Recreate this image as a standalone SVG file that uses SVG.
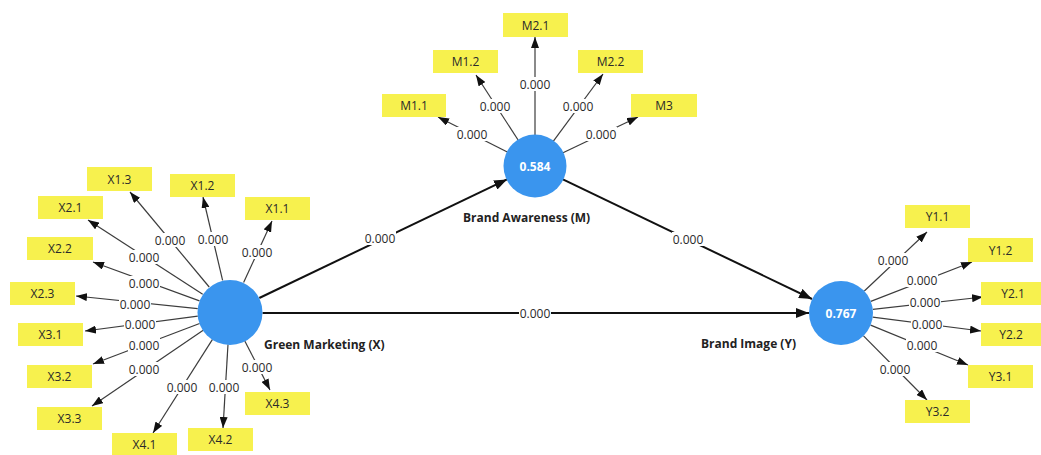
<svg xmlns="http://www.w3.org/2000/svg" width="1041" height="455" viewBox="0 0 1041 455">
<defs>
<style>
.bg{fill:#fff}
.box{fill:#f7f14e}
.bt{font-family:"Open Sans","Noto Sans",sans-serif;font-size:12px;fill:#2a2a2a;text-anchor:middle;dominant-baseline:central}
.lv{fill:#3a95ee}
.cv{font-family:"Open Sans","Noto Sans",sans-serif;font-size:12px;font-weight:bold;fill:#fff;text-anchor:middle;dominant-baseline:central}
.nl{font-family:"Open Sans","Noto Sans",sans-serif;font-size:12px;font-weight:bold;fill:#222;dominant-baseline:central}
.ind{stroke:#3c3c3c;stroke-width:1.2;fill:none;marker-end:url(#ah)}
.pth{stroke:#111;stroke-width:2;fill:none;marker-end:url(#ahb)}
.wb{fill:#fff}
.w{font-family:"Open Sans","Noto Sans",sans-serif;font-size:12px;fill:#2a2a2a;text-anchor:middle;dominant-baseline:central}
</style>
<marker id="ah" markerUnits="userSpaceOnUse" markerWidth="11" markerHeight="8" viewBox="0 0 11 8" refX="11" refY="4" orient="auto"><path d="M0,0 L11,4 L0,8 z" fill="#111"/></marker>
<marker id="ahb" markerUnits="userSpaceOnUse" markerWidth="13" markerHeight="10" viewBox="0 0 13 10" refX="13" refY="5" orient="auto"><path d="M0,0 L13,5 L0,10 z" fill="#111"/></marker>
</defs>
<rect class="bg" x="0" y="0" width="1041" height="455"/>

<g id="connectors">
<!-- X indicators -->
<line class="ind" x1="209.2" y1="287" x2="130" y2="192"/>
<line class="ind" x1="222.6" y1="280.3" x2="203" y2="197"/>
<line class="ind" x1="243.6" y1="282.5" x2="272" y2="221"/>
<line class="ind" x1="202.7" y1="294.3" x2="88" y2="220"/>
<line class="ind" x1="199.5" y1="300.9" x2="93" y2="262"/>
<line class="ind" x1="197.7" y1="308.6" x2="76" y2="296"/>
<line class="ind" x1="197.8" y1="316.2" x2="85" y2="331"/>
<line class="ind" x1="199.6" y1="323.5" x2="93" y2="364"/>
<line class="ind" x1="203.2" y1="330.3" x2="92" y2="406"/>
<line class="ind" x1="212.5" y1="339.4" x2="153" y2="433"/>
<line class="ind" x1="228" y1="344.4" x2="223" y2="428"/>
<line class="ind" x1="244.8" y1="340.9" x2="270" y2="390"/>
<!-- M indicators -->
<line class="ind" x1="507.3" y1="152" x2="438" y2="117"/>
<line class="ind" x1="518.1" y1="140" x2="476" y2="75"/>
<line class="ind" x1="535" y1="135" x2="535" y2="37"/>
<line class="ind" x1="553.4" y1="141.1" x2="603" y2="74"/>
<line class="ind" x1="563" y1="152.7" x2="638" y2="117"/>
<!-- Y indicators -->
<line class="ind" x1="864.3" y1="291" x2="927" y2="232"/>
<line class="ind" x1="870.8" y1="301.4" x2="972" y2="262"/>
<line class="ind" x1="872.8" y1="309.4" x2="983" y2="297"/>
<line class="ind" x1="872.7" y1="317.1" x2="981" y2="331"/>
<line class="ind" x1="870.6" y1="325.1" x2="968" y2="365"/>
<line class="ind" x1="863.5" y1="335.8" x2="927" y2="400"/>
<!-- structural -->
<line class="pth" x1="259.3" y1="298" x2="507" y2="179.4"/>
<line class="pth" x1="562.9" y1="179.4" x2="812" y2="299"/>
<line class="pth" x1="262.5" y1="313" x2="809" y2="313"/>

<!-- weight labels -->
<g>
<rect class="wb" x="154" y="233" width="32" height="14"/><text class="w" x="170" y="240">0.000</text>
<rect class="wb" x="197" y="232" width="32" height="14"/><text class="w" x="213" y="239">0.000</text>
<rect class="wb" x="241" y="245" width="32" height="14"/><text class="w" x="257" y="252">0.000</text>
<rect class="wb" x="128" y="250" width="32" height="14"/><text class="w" x="144" y="257">0.000</text>
<rect class="wb" x="128" y="276" width="32" height="14"/><text class="w" x="144" y="283">0.000</text>
<rect class="wb" x="119" y="297" width="32" height="14"/><text class="w" x="135" y="304">0.000</text>
<rect class="wb" x="124" y="317" width="32" height="14"/><text class="w" x="140" y="324">0.000</text>
<rect class="wb" x="128" y="338" width="32" height="14"/><text class="w" x="144" y="345">0.000</text>
<rect class="wb" x="128" y="362" width="32" height="14"/><text class="w" x="144" y="369">0.000</text>
<rect class="wb" x="166" y="380" width="32" height="14"/><text class="w" x="182" y="387">0.000</text>
<rect class="wb" x="208" y="380" width="32" height="14"/><text class="w" x="224" y="387">0.000</text>
<rect class="wb" x="241" y="360" width="32" height="14"/><text class="w" x="257" y="367">0.000</text>

<rect class="wb" x="456" y="127" width="32" height="14"/><text class="w" x="472" y="134">0.000</text>
<rect class="wb" x="479" y="99" width="32" height="14"/><text class="w" x="495" y="106">0.000</text>
<rect class="wb" x="519" y="77" width="32" height="14"/><text class="w" x="535" y="84">0.000</text>
<rect class="wb" x="562" y="99" width="32" height="14"/><text class="w" x="578" y="106">0.000</text>
<rect class="wb" x="585" y="127" width="32" height="14"/><text class="w" x="601" y="134">0.000</text>

<rect class="wb" x="877" y="253" width="32" height="14"/><text class="w" x="893" y="260">0.000</text>
<rect class="wb" x="906" y="273" width="32" height="14"/><text class="w" x="922" y="280">0.000</text>
<rect class="wb" x="909" y="295" width="32" height="14"/><text class="w" x="925" y="302">0.000</text>
<rect class="wb" x="911" y="317" width="32" height="14"/><text class="w" x="927" y="324">0.000</text>
<rect class="wb" x="906" y="338" width="32" height="14"/><text class="w" x="922" y="345">0.000</text>
<rect class="wb" x="879" y="362" width="32" height="14"/><text class="w" x="895" y="369">0.000</text>

<rect class="wb" x="364" y="231" width="32" height="14"/><text class="w" x="380" y="238">0.000</text>
<rect class="wb" x="672" y="232" width="32" height="14"/><text class="w" x="688" y="239">0.000</text>
<rect class="wb" x="519" y="306" width="32" height="14"/><text class="w" x="535" y="313">0.000</text>
</g>
</g>

<!-- latent variables -->
<g id="node-X">
<circle class="lv" cx="230" cy="312.5" r="32.5"/>
<text class="nl" x="264" y="344">Green Marketing (X)</text>
</g>
<g id="node-M">
<circle class="lv" cx="535" cy="166" r="31.5"/>
<text class="cv" x="535" y="166">0.584</text>
<text class="nl" x="463" y="217">Brand Awareness (M)</text>
</g>
<g id="node-Y">
<circle class="lv" cx="841" cy="313" r="32"/>
<text class="cv" x="841" y="313">0.767</text>
<text class="nl" x="701" y="343">Brand Image (Y)</text>
</g>

<!-- X indicators -->
<g id="X1.3"><rect class="box" x="87" y="167" width="65" height="24"/><text class="bt" x="119.5" y="179">X1.3</text></g>
<g id="X1.2"><rect class="box" x="170" y="174" width="65" height="23"/><text class="bt" x="202.5" y="185.5">X1.2</text></g>
<g id="X1.1"><rect class="box" x="245" y="197" width="65" height="23"/><text class="bt" x="277.5" y="208.5">X1.1</text></g>
<g id="X2.1"><rect class="box" x="38" y="196" width="65" height="23"/><text class="bt" x="70.5" y="207.5">X2.1</text></g>
<g id="X2.2"><rect class="box" x="27" y="237" width="66" height="23"/><text class="bt" x="60" y="248.5">X2.2</text></g>
<g id="X2.3"><rect class="box" x="10" y="282" width="65" height="23"/><text class="bt" x="42.5" y="293.5">X2.3</text></g>
<g id="X3.1"><rect class="box" x="18" y="323" width="65" height="23"/><text class="bt" x="50.5" y="334.5">X3.1</text></g>
<g id="X3.2"><rect class="box" x="27" y="365" width="65" height="23"/><text class="bt" x="59.5" y="376.5">X3.2</text></g>
<g id="X3.3"><rect class="box" x="37" y="407" width="65" height="23"/><text class="bt" x="69.5" y="418.5">X3.3</text></g>
<g id="X4.1"><rect class="box" x="112" y="433" width="65" height="23"/><text class="bt" x="144.5" y="444.5">X4.1</text></g>
<g id="X4.2"><rect class="box" x="188" y="428" width="65" height="23"/><text class="bt" x="220.5" y="439.5">X4.2</text></g>
<g id="X4.3"><rect class="box" x="245" y="392" width="65" height="23"/><text class="bt" x="277.5" y="403.5">X4.3</text></g>

<!-- M indicators -->
<g id="M2.1"><rect class="box" x="503" y="13" width="65" height="24"/><text class="bt" x="535.5" y="25">M2.1</text></g>
<g id="M1.2"><rect class="box" x="433" y="50" width="65" height="23"/><text class="bt" x="465.5" y="61.5">M1.2</text></g>
<g id="M2.2"><rect class="box" x="578" y="50" width="65" height="23"/><text class="bt" x="610.5" y="61.5">M2.2</text></g>
<g id="M1.1"><rect class="box" x="382" y="94" width="64" height="23"/><text class="bt" x="414" y="105.5">M1.1</text></g>
<g id="M3"><rect class="box" x="631" y="94" width="66" height="23"/><text class="bt" x="664" y="105.5">M3</text></g>

<!-- Y indicators -->
<g id="Y1.1"><rect class="box" x="905" y="205" width="65" height="23"/><text class="bt" x="937.5" y="216.5">Y1.1</text></g>
<g id="Y1.2"><rect class="box" x="968" y="238" width="65" height="24"/><text class="bt" x="1000.5" y="250">Y1.2</text></g>
<g id="Y2.1"><rect class="box" x="981" y="282" width="60" height="23"/><text class="bt" x="1013" y="293.5">Y2.1</text></g>
<g id="Y2.2"><rect class="box" x="981" y="323" width="60" height="23"/><text class="bt" x="1011" y="334.5">Y2.2</text></g>
<g id="Y3.1"><rect class="box" x="968" y="365" width="65" height="23"/><text class="bt" x="1000.5" y="376.5">Y3.1</text></g>
<g id="Y3.2"><rect class="box" x="905" y="400" width="65" height="23"/><text class="bt" x="937.5" y="411.5">Y3.2</text></g>
</svg>
